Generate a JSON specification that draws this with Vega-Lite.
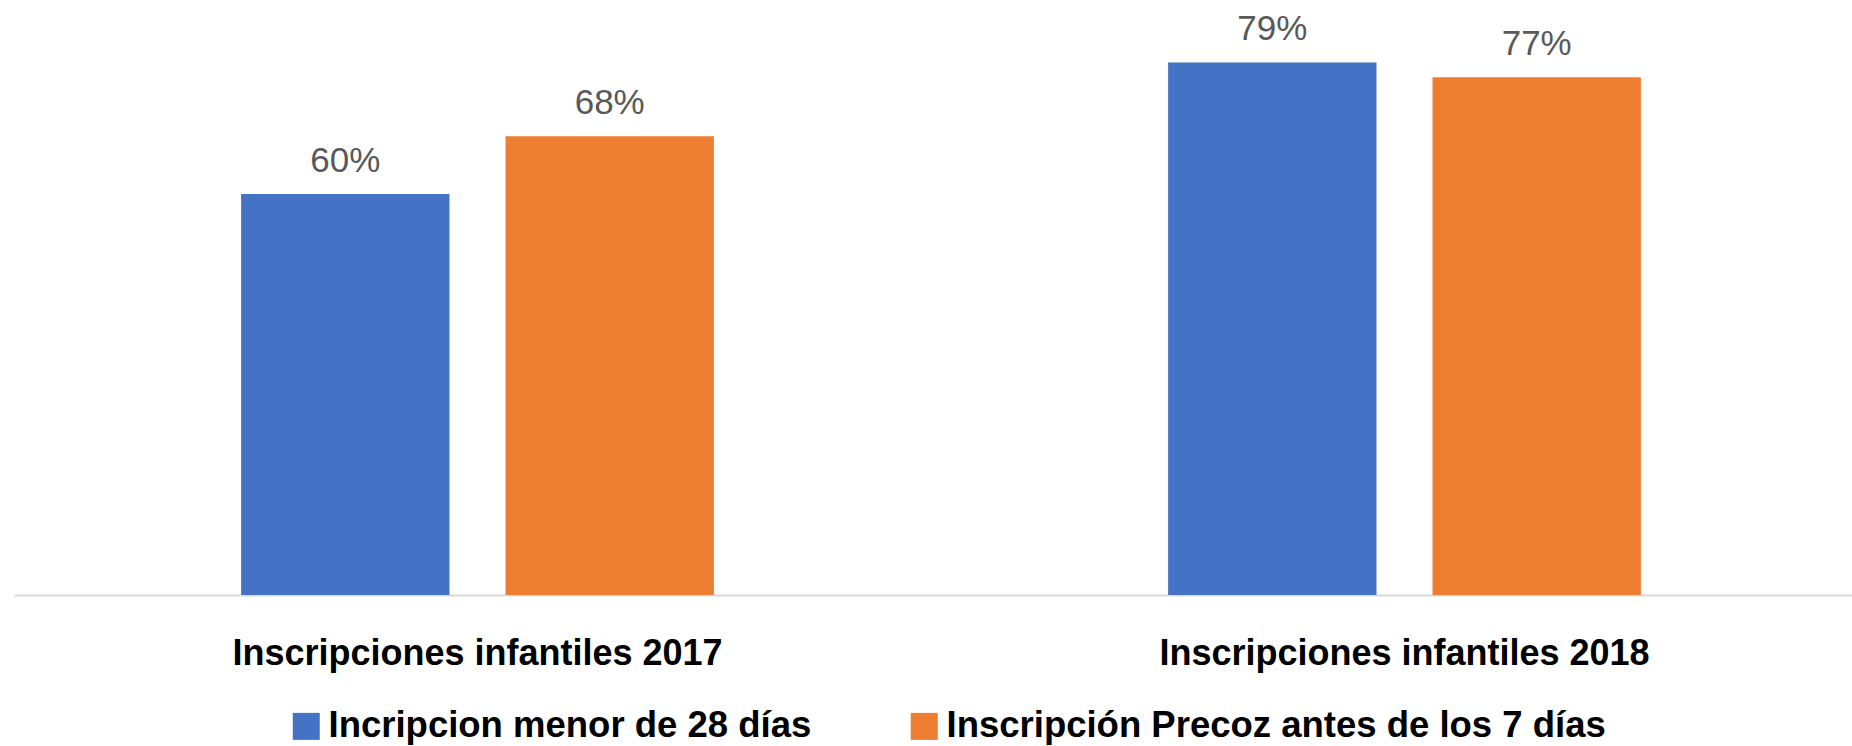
{
  "$schema": "https://vega.github.io/schema/vega-lite/v6.json",
  "width": 1854,
  "height": 591,
  "autosize": "none",
  "padding": {"left": 14, "top": 4, "right": 0, "bottom": 151},
  "background": "white",
  "config": {"view": {"stroke": null}, "font": "Liberation Sans"},
  "data": {
    "values": [
      {"grupo": "Inscripciones infantiles 2017", "serie": "Incripcion menor de 28 días", "valor": 0.597},
      {"grupo": "Inscripciones infantiles 2017", "serie": "Inscripción Precoz antes de los 7 días", "valor": 0.683},
      {"grupo": "Inscripciones infantiles 2018", "serie": "Incripcion menor de 28 días", "valor": 0.793},
      {"grupo": "Inscripciones infantiles 2018", "serie": "Inscripción Precoz antes de los 7 días", "valor": 0.771}
    ]
  },
  "encoding": {
    "x": {
      "field": "grupo",
      "type": "nominal",
      "sort": null,
      "title": null,
      "scale": {"paddingInner": 0.49, "paddingOuter": 0.245},
      "axis": {
        "labelAngle": 0,
        "labelFontSize": 36,
        "labelFontWeight": "bold",
        "labelColor": "#000000",
        "labelLimit": 1000,
        "labelBaseline": "alphabetic",
        "labelPadding": 69,
        "ticks": false,
        "tickSize": 0,
        "domainColor": "#d9d9d9",
        "domainWidth": 2,
        "grid": false
      }
    },
    "xOffset": {
      "field": "serie",
      "type": "nominal",
      "sort": null,
      "scale": {"paddingInner": 0.212, "paddingOuter": 0}
    },
    "y": {
      "field": "valor",
      "type": "quantitative",
      "scale": {"domain": [0, 0.88]},
      "axis": null
    }
  },
  "layer": [
    {
      "mark": {"type": "bar"},
      "encoding": {
        "color": {
          "field": "serie",
          "type": "nominal",
          "sort": null,
          "scale": {"range": ["#4472C4", "#ED7D31"]},
          "legend": {
            "orient": "none",
            "legendX": 274,
            "legendY": 704,
            "direction": "horizontal",
            "title": null,
            "symbolType": "square",
            "symbolSize": 729,
            "symbolStrokeWidth": 0,
            "labelFontSize": 36.5,
            "labelFontWeight": "bold",
            "labelColor": "#000000",
            "labelOffset": 4,
            "labelLimit": 1000,
            "columnPadding": 94
          }
        }
      }
    },
    {
      "mark": {"type": "text", "dy": -22, "baseline": "alphabetic", "fontSize": 35, "color": "#595959"},
      "encoding": {
        "text": {"field": "valor", "type": "quantitative", "format": ".0%"}
      }
    }
  ]
}
